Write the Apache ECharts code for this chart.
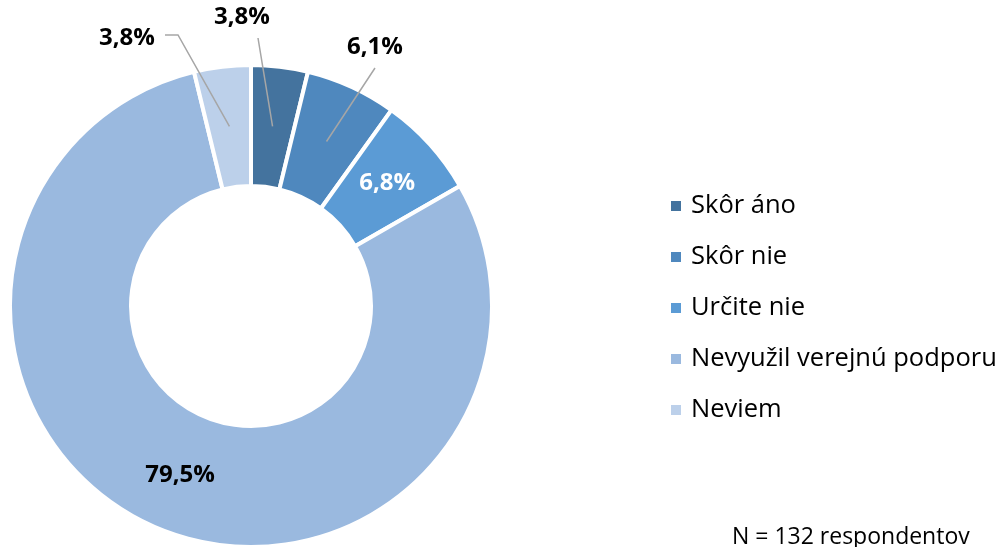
<!DOCTYPE html>
<html>
<head>
<meta charset="utf-8">
<style>
html, body { margin: 0; padding: 0; background: #fff; }
#donut { width: 1005px; height: 547px; }
</style>
<script src="https://cdn.jsdelivr.net/npm/echarts@6/dist/echarts.min.js"></script>
</head>
<body>
<div id="donut"></div>
<script>
var categories = ['Skôr áno', 'Skôr nie', 'Určite nie', 'Nevyužil verejnú podporu', 'Neviem'];
var shares = [3.8, 6.1, 6.8, 79.5, 3.8];
var colors = ['#44739e', '#4f88be', '#5b9bd5', '#9ab9df', '#bcd0ea'];
var noteText = 'N = 132 respondentov';

var FONT = 'Open Sans';
var CENTER = [251, 306];

// where the outside labels sit (label centre + end of the leader line)
var outsideLabels = {
	0: { x: 242, y: 17, line: [[258, 38]] },
	1: { x: 375, y: 47, line: [[375, 68]] },
	4: { x: 127, y: 38, line: [[178, 35], [165, 35]] }
};

function fmt(v) {
	return v.toFixed(1).replace('.', ',') + '%';
}

var mainData = [];
var labelData = [];
for (var i = 0; i < categories.length; i++) {
	var inside = (i == 2 || i == 3);
	mainData.push({
		name: categories[i],
		value: shares[i],
		itemStyle: { color: colors[i] },
		label: {
			show: inside,
			color: i == 2 ? '#ffffff' : '#000000'
		}
	});
	labelData.push({
		name: categories[i],
		value: shares[i],
		label: { show: !inside },
		labelLine: { show: !inside }
	});
}

var chart = echarts.init(document.getElementById('donut'));
var option = {
	animation: false,
	legend: {
		orient: 'vertical',
		left: 664,
		top: 186,
		icon: 'rect',
		itemWidth: 12,
		itemHeight: 12,
		itemGap: 21,
		selectedMode: false,
		data: categories,
		textStyle: {
			fontFamily: FONT,
			fontSize: 25.5,
			color: '#000',
			lineHeight: 30,
			padding: [0, 0, 0, 4]
		}
	},
	graphic: [{
		type: 'text',
		left: 732,
		top: 526,
		style: {
			text: noteText,
			fontFamily: FONT,
			fontSize: 23,
			fill: '#000'
		}
	}],
	series: [{
		name: 'main',
		type: 'pie',
		z: 2,
		center: CENTER,
		radius: [120, 241],
		startAngle: 90,
		clockwise: true,
		silent: true,
		itemStyle: {
			borderColor: '#ffffff',
			borderWidth: 4
		},
		label: {
			position: 'inside',
			fontFamily: FONT,
			fontSize: 24,
			fontWeight: 'bold',
			formatter: function(p) { return fmt(p.value); }
		},
		labelLayout: function(params) {
			if (params.dataIndex == 3) {
				return { x: 180, y: 475, align: 'center', verticalAlign: 'middle' };
			}
		},
		data: mainData
	}, {
		name: 'labels',
		type: 'pie',
		z: 5,
		center: CENTER,
		radius: [0, 181],
		startAngle: 90,
		clockwise: true,
		silent: true,
		itemStyle: { color: 'rgba(0,0,0,0)' },
		label: {
			position: 'outside',
			fontFamily: FONT,
			fontSize: 24,
			fontWeight: 'bold',
			color: '#000',
			formatter: function(p) { return fmt(p.value); }
		},
		labelLine: {
			length: 10,
			length2: 10,
			lineStyle: { color: '#a6a6a6', width: 1.5 }
		},
		labelLayout: function(params) {
			var spec = outsideLabels[params.dataIndex];
			if (!spec || !params.labelLinePoints) return;
			var pts = [params.labelLinePoints[0]].concat(spec.line);
			if (pts.length == 2) {
				pts.splice(1, 0, [(pts[0][0] + pts[1][0]) / 2, (pts[0][1] + pts[1][1]) / 2]);
			}
			return {
				x: spec.x,
				y: spec.y,
				align: 'center',
				verticalAlign: 'middle',
				labelLinePoints: pts
			};
		},
		data: labelData
	}]
};
chart.setOption(option);
</script>
</body>
</html>
